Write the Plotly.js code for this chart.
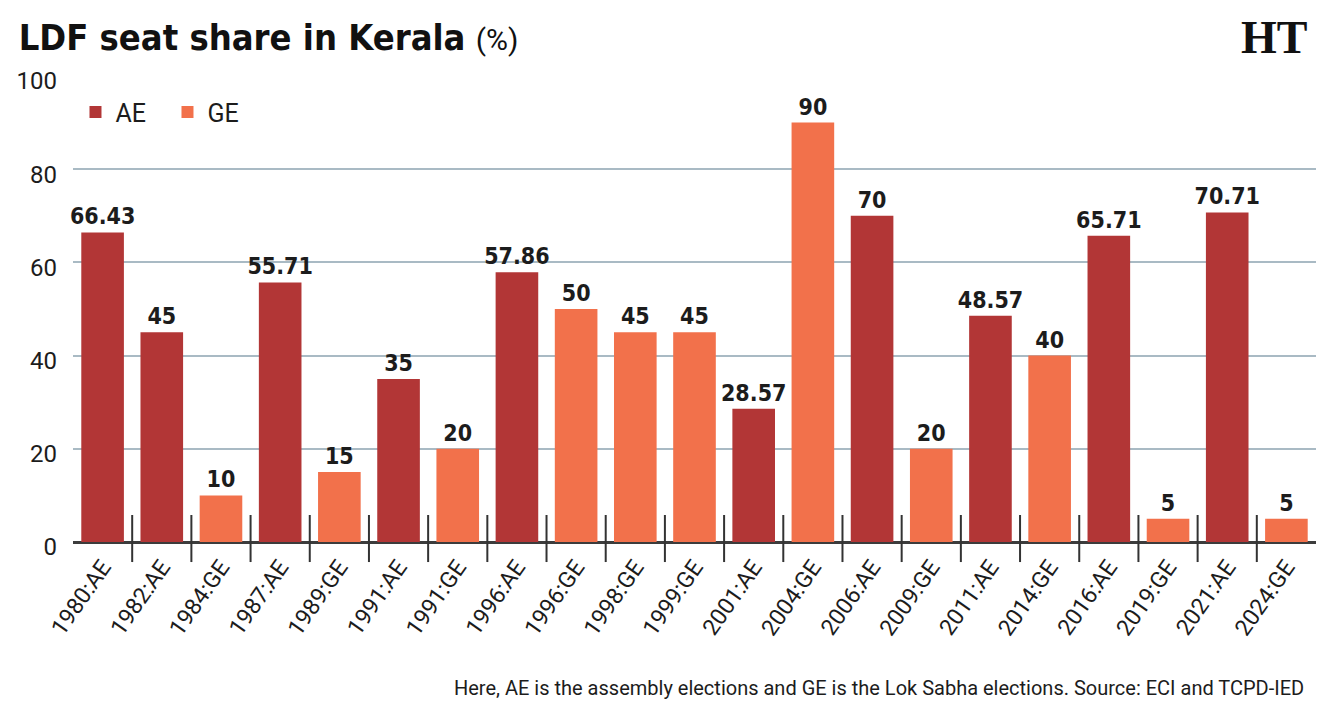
<!DOCTYPE html>
<html>
<head>
<meta charset="utf-8">
<script src="https://cdn.plot.ly/plotly-3.0.1.min.js"></script>
<style>
  html, body { margin: 0; padding: 0; background: #fff; }
  #chart { width: 1331px; height: 713px; }
</style>
</head>
<body>
<div id="chart"></div>
<script>
// Election labels in chronological order (year:type)
const elections = [
  "1980:AE", "1982:AE", "1984:GE", "1987:AE", "1989:GE", "1991:AE", "1991:GE",
  "1996:AE", "1996:GE", "1998:GE", "1999:GE", "2001:AE", "2004:GE", "2006:AE",
  "2009:GE", "2011:AE", "2014:GE", "2016:AE", "2019:GE", "2021:AE", "2024:GE"
];
// LDF share of seats won (%)
const seatShare = [
  66.43, 45, 10, 55.71, 15, 35, 20,
  57.86, 50, 45, 45, 28.57, 90, 70,
  20, 48.57, 40, 65.71, 5, 70.71, 5
];
// AE = assembly election, GE = Lok Sabha election
const electionType = elections.map(e => e.split(":")[1]);
const yTicks = [0, 20, 40, 60, 80, 100];

const seriesColors = { AE: "#b23636", GE: "#f2714b" };
const boldFont = "'DejaVu Sans Condensed', 'DejaVu Sans', sans-serif";
const textFont = "Roboto, 'Liberation Sans', sans-serif";

function series(type) {
  const xs = [], ys = [];
  elections.forEach((e, i) => {
    if (electionType[i] === type) { xs.push(e); ys.push(seatShare[i]); }
  });
  return {
    type: "bar",
    name: type,
    x: xs,
    y: ys,
    text: ys.map(v => String(v)),
    textposition: "outside",
    constraintext: "none",
    cliponaxis: false,
    textfont: { family: boldFont, size: 23, color: "#1c1c1c", weight: 700 },
    marker: { color: seriesColors[type], line: { width: 0 } },
    hoverinfo: "x+y"
  };
}

const data = [series("AE"), series("GE")];

// Short divider marks between neighbouring categories
const dividers = elections.slice(0, -1).map((_, i) => ({
  type: "line",
  xref: "x", yref: "paper",
  x0: i + 0.5, x1: i + 0.5,
  y0: -0.043, y1: 0.058,
  line: { color: "#333", width: 2 },
  layer: "above"
}));

const layout = {
  width: 1331,
  height: 713,
  margin: { l: 73, r: 15, t: 76, b: 171 },
  paper_bgcolor: "#fff",
  plot_bgcolor: "#fff",
  barmode: "relative",
  bargap: 0.28,
  showlegend: true,
  legend: {
    orientation: "h",
    x: 0.002, y: 0.922,
    xanchor: "left", yanchor: "middle",
    font: { family: textFont, size: 25, color: "#1c1c1c" },
    bgcolor: "rgba(0,0,0,0)",
    itemwidth: 30,
    entrywidth: 47,
    entrywidthmode: "pixels",
    traceorder: "normal"
  },
  title: {
    text: "<b>LDF seat share in Kerala</b> <span style='font-weight:400;font-size:30px;font-family:Roboto'>(%)</span>",
    x: 0.014, xanchor: "left", xref: "container",
    y: 0.948, yanchor: "middle", yref: "container",
    font: { family: boldFont, size: 36, color: "#111" }
  },
  xaxis: {
    type: "category",
    categoryorder: "array",
    categoryarray: elections,
    tickangle: -55,
    ticks: "",
    ticklabelstandoff: 6,
    tickfont: { family: textFont, size: 23, color: "#1c1c1c" },
    showgrid: false,
    showline: false,
    zeroline: false,
    fixedrange: true
  },
  yaxis: {
    range: [0, 100],
    tickvals: yTicks,
    ticktext: yTicks.map(String),
    ticks: "",
    ticklabelstandoff: 15,
    ticklabelshift: 5,
    tickfont: { family: textFont, size: 24, color: "#1c1c1c" },
    showgrid: true,
    gridcolor: "#a9bac4",
    gridwidth: 2,
    zeroline: true,
    zerolinecolor: "#3c3c3c",
    zerolinewidth: 3,
    showline: false,
    fixedrange: true
  },
  shapes: dividers,
  annotations: [
    {
      text: "HT",
      xref: "paper", yref: "paper",
      x: 0.994, y: 1.083,
      xanchor: "right", yanchor: "middle",
      showarrow: false,
      font: { family: "'Liberation Serif', 'DejaVu Serif', serif", size: 46, color: "#111", weight: 700 }
    },
    {
      text: "Here, AE is the assembly elections and GE is the Lok Sabha elections. Source: ECI and TCPD-IED",
      xref: "paper", yref: "paper",
      x: 0.992, y: -0.313,
      xanchor: "right", yanchor: "middle",
      showarrow: false,
      font: { family: textFont, size: 20, color: "#1c1c1c" }
    }
  ]
};

Plotly.newPlot("chart", data, layout, { displayModeBar: false, staticPlot: true });
</script>
</body>
</html>
